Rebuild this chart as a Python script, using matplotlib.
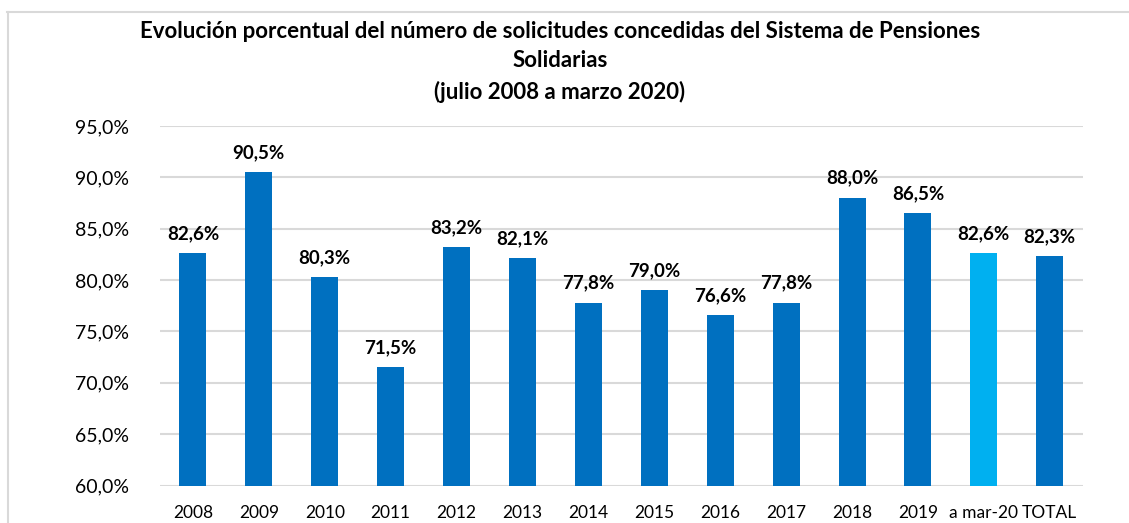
#!/usr/bin/env python3

import matplotlib
matplotlib.use("Agg")
import matplotlib.pyplot as plt
from matplotlib.lines import Line2D
import numpy as np

categories = ["2008", "2009", "2010", "2011", "2012", "2013", "2014",
              "2015", "2016", "2017", "2018", "2019", "a mar-20", "TOTAL"]
values = [82.6, 90.5, 80.3, 71.5, 83.2, 82.1, 77.8,
          79.0, 76.6, 77.8, 88.0, 86.5, 82.6, 82.3]
highlight = ["a mar-20"]

TITLE = ("Evolución porcentual del número de solicitudes concedidas del Sistema de Pensiones\n"
         "Solidarias\n(julio 2008 a marzo 2020)")

DARK = "#0070C0"
LIGHT = "#00B0F0"
GRID = "#D9D9D9"

plt.rcParams['font.family'] = ['Lato', 'DejaVu Sans']


def make_chart():
    fig = plt.figure(figsize=(11.29, 5.23), dpi=100)
    ax = fig.add_axes([0.1417, 0.0717, 0.8173, 0.6876])

    x = np.arange(len(categories))
    colors = [LIGHT if c in highlight else DARK for c in categories]
    ax.bar(x, np.array(values) - 60, bottom=60, width=0.41, color=colors, zorder=3)

    for xi, v in zip(x, values):
        ax.annotate(f"{v:.1f}%".replace(".", ","), (xi, v), xytext=(0, 8),
                    textcoords="offset points", ha="center", va="bottom",
                    fontsize=13.5, fontweight="bold", color="black")

    ax.set_ylim(60, 95)
    ax.set_xlim(-0.5, len(categories) - 0.5)
    ticks = np.arange(60, 96, 5)
    ax.set_yticks(ticks)
    ax.set_yticklabels([f"{t:.1f}%".replace(".", ",") for t in ticks], fontsize=14)
    ax.set_xticks(x)
    ax.set_xticklabels(categories, fontsize=12.5)
    ax.tick_params(axis="y", length=0, pad=22)
    ax.tick_params(axis="x", length=0, pad=14)

    ax.grid(axis="y", color=GRID, linewidth=1.5, zorder=0)
    for s in ax.spines.values():
        s.set_visible(False)

    fig.text(0.496, 0.96, TITLE, ha="center", va="top", fontsize=16,
             fontweight="bold", linespacing=1.5)

    # chart frame (top and left edges visible in the crop)
    fig.add_artist(Line2D([0.006, 1.0], [0.978, 0.978], color=GRID, linewidth=1.5,
                          transform=fig.transFigure))
    fig.add_artist(Line2D([0.007, 0.007], [0.0, 0.978], color=GRID, linewidth=1.5,
                          transform=fig.transFigure))

    return fig


if __name__ == "__main__":
    fig = make_chart()
    fig.savefig("out.png", dpi=100)
